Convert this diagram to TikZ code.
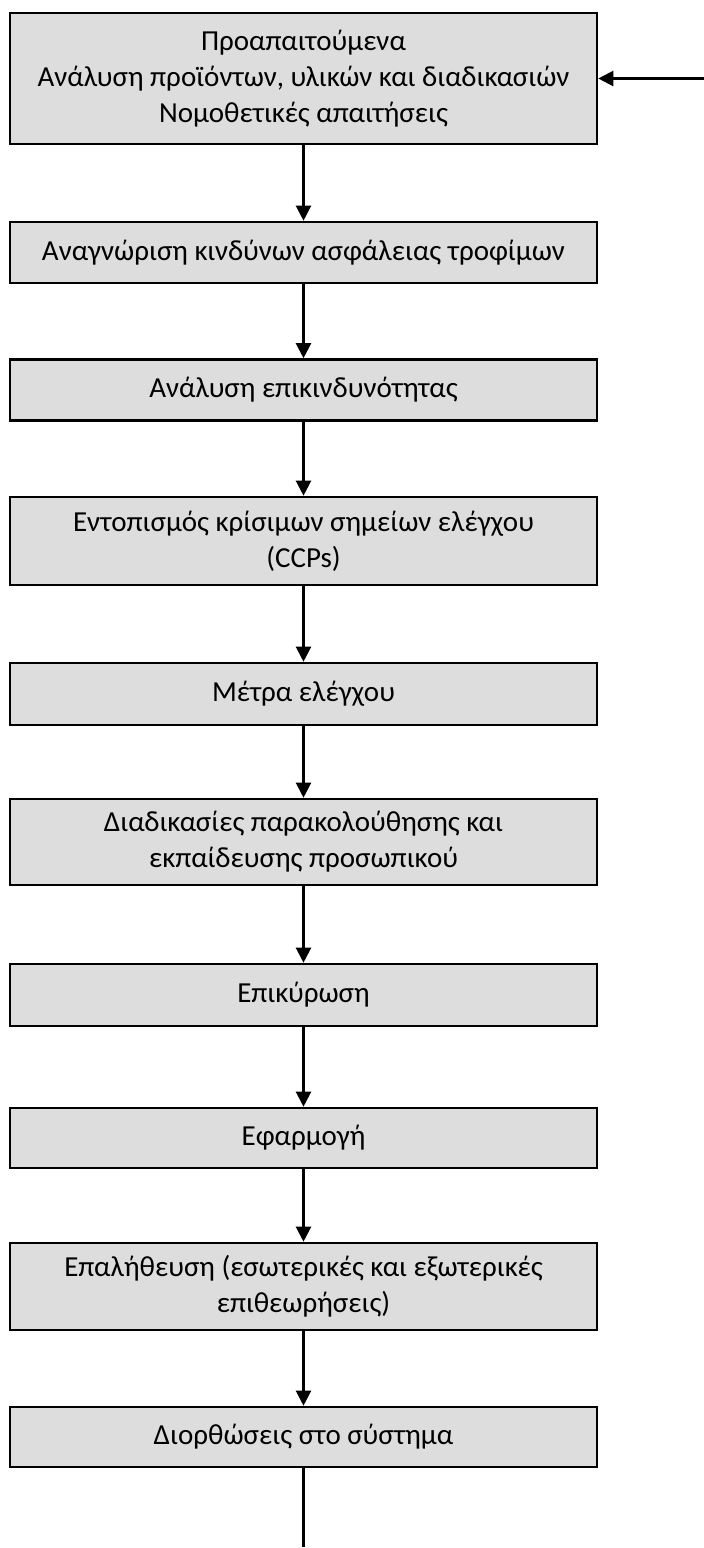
\documentclass[tikz,border=0pt]{standalone}
\usepackage{fontspec}
\setmainfont{Carlito}
\usetikzlibrary{arrows.meta}
\begin{document}
\begin{tikzpicture}[x=1pt,y=1pt,
  box/.style={draw=black, line width=2.6pt, fill=boxgray, minimum width=587pt, align=center, inner sep=0pt, font=\fontsize{29}{36}\selectfont},
  conn/.style={line width=2.2pt, -{Triangle[length=15pt,width=15pt]}},
  plain/.style={line width=2.2pt}]
\definecolor{boxgray}{HTML}{DDDDDD}
\useasboundingbox (0,0) rectangle (704,-1548);
\fill[white] (0,0) rectangle (704,-1548);
\node[box, minimum height=131pt] (b1) at (303.5,-78.5) {Προαπαιτούμενα\\Ανάλυση προϊόντων, υλικών και διαδικασιών\\Νομοθετικές απαιτήσεις};
\node[box, minimum height=61pt] (b2) at (303.5,-252.5) {Αναγνώριση κινδύνων ασφάλειας τροφίμων};
\node[box, minimum height=61pt] (b3) at (303.5,-390) {Ανάλυση επικινδυνότητας};
\node[box, minimum height=88pt] (b4) at (303.5,-541) {Εντοπισμός κρίσιμων σημείων ελέγχου\\(CCPs)};
\node[box, minimum height=62pt] (b5) at (303.5,-694) {Μέτρα ελέγχου};
\node[box, minimum height=86pt] (b6) at (303.5,-842) {Διαδικασίες παρακολούθησης και\\εκπαίδευσης προσωπικού};
\node[box, minimum height=62pt] (b7) at (303.5,-995) {Επικύρωση};
\node[box, minimum height=60pt] (b8) at (303.5,-1138) {Εφαρμογή};
\node[box, minimum height=87pt] (b9) at (303.5,-1286.5) {Επαλήθευση (εσωτερικές και εξωτερικές\\επιθεωρήσεις)};
\node[box, minimum height=60pt] (b10) at (303.5,-1437) {Διορθώσεις στο σύστημα};
\coordinate (in) at (704,-78.5);
\coordinate (out) at (303.5,-1547);
\draw[conn] (in) -- (b1.east);
\draw[conn] (b1) -- (b2);
\draw[conn] (b2) -- (b3);
\draw[conn] (b3) -- (b4);
\draw[conn] (b4) -- (b5);
\draw[conn] (b5) -- (b6);
\draw[conn] (b6) -- (b7);
\draw[conn] (b7) -- (b8);
\draw[conn] (b8) -- (b9);
\draw[conn] (b9) -- (b10);
\draw[plain] (b10) -- (out);
\end{tikzpicture}
\end{document}
